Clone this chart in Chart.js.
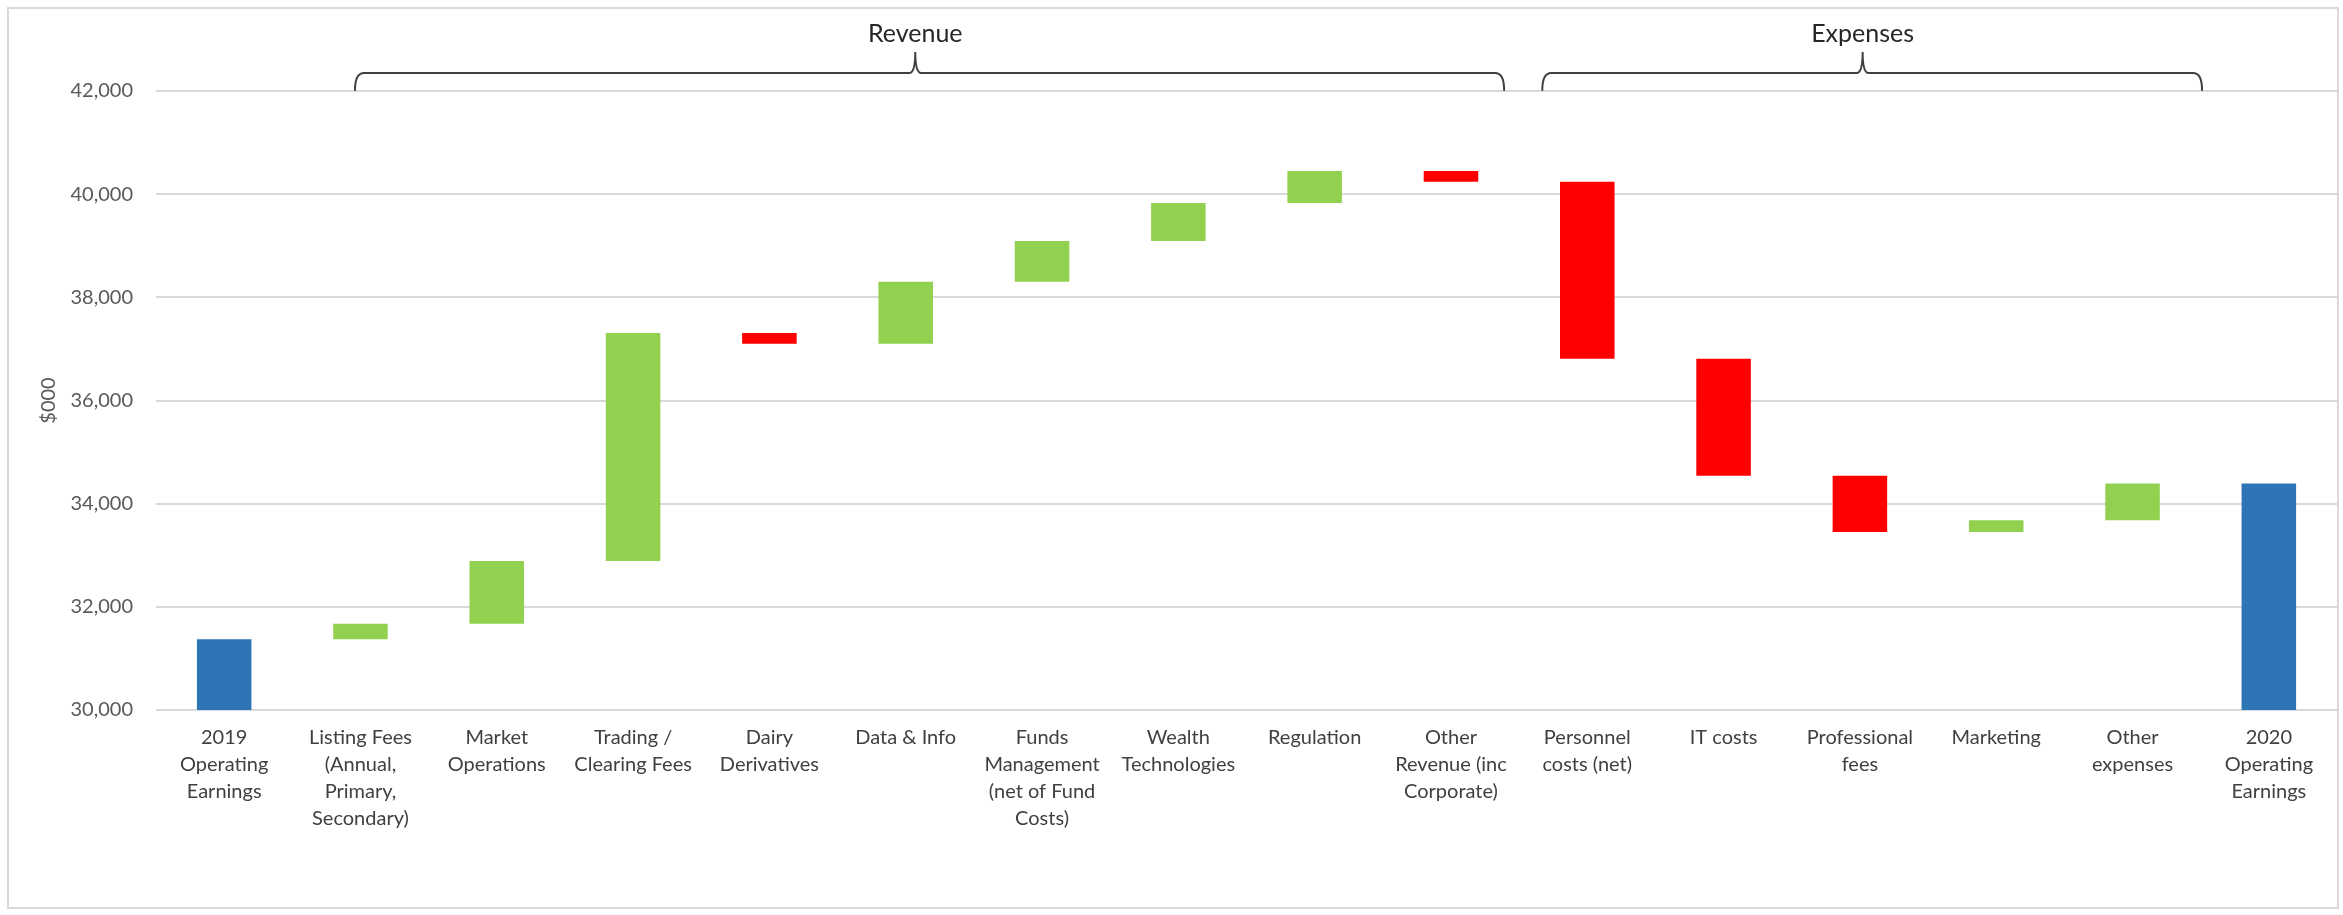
<!DOCTYPE html>
<html>
<head>
<meta charset="utf-8">
<title>Operating earnings bridge 2019 to 2020</title>
<script src="https://cdn.jsdelivr.net/npm/chart.js@4/dist/chart.umd.min.js"></script>
<style>
  html, body { margin: 0; padding: 0; background: #fff; }
  canvas { display: block; }
</style>
</head>
<body>
<canvas id="bridgeChart" width="2343" height="915"></canvas>
<script>
// categories (wrapped the way the axis shows them)
const categories = [
  ['2019', 'Operating', 'Earnings'],
  ['Listing Fees', '(Annual,', 'Primary,', 'Secondary)'],
  ['Market', 'Operations'],
  ['Trading /', 'Clearing Fees'],
  ['Dairy', 'Derivatives'],
  'Data & Info',
  ['Funds', 'Management', '(net of Fund', 'Costs)'],
  ['Wealth', 'Technologies'],
  'Regulation',
  ['Other', 'Revenue (inc', 'Corporate)'],
  ['Personnel', 'costs (net)'],
  'IT costs',
  ['Professional', 'fees'],
  'Marketing',
  ['Other', 'expenses'],
  ['2020', 'Operating', 'Earnings']
];

// bar start / end levels ($000)
const barFrom = [30000, 31370, 31670, 32890, 37310, 37100, 38300, 39090, 39830, 40450, 40240, 36810, 34540, 33450, 33680, 30000];
const barTo   = [31370, 31670, 32890, 37310, 37100, 38300, 39090, 39830, 40450, 40240, 36810, 34540, 33450, 33680, 34390, 34390];
const barKind = ['total', 'up', 'up', 'up', 'down', 'up', 'up', 'up', 'up', 'down', 'down', 'down', 'down', 'up', 'up', 'total'];

const yTicks = [30000, 32000, 34000, 36000, 38000, 40000, 42000];

// group brackets above the bars, in category units
const groupNames = ['Revenue', 'Expenses'];
const groupFrom = [0.96, 9.67];
const groupTo = [9.39, 14.51];
const groupTip = [5.07, 12.02];

const kindColors = { total: '#2E75B6', up: '#92D050', down: '#FF0000' };
const FONT = 'Lato, "Open Sans", sans-serif';

const bracketPlugin = {
  id: 'brackets',
  beforeDraw(chart) {
    const c = chart.ctx;
    c.save();
    c.fillStyle = '#ffffff';
    c.fillRect(0, 0, chart.width, chart.height);
    c.restore();
  },
  afterDraw(chart) {
    const c = chart.ctx;
    const x = chart.scales.x;
    const lineY = 73, endY = 90, tipY = 52;
    c.save();
    c.strokeStyle = '#404040';
    c.lineWidth = 2;
    c.lineCap = 'round';
    for (let i = 0; i < groupNames.length; i++) {
      const x0 = x.getPixelForValue(groupFrom[i]);
      const x1 = x.getPixelForValue(groupTo[i]);
      const xt = x.getPixelForValue(groupTip[i]);
      c.beginPath();
      c.moveTo(x0, endY);
      c.quadraticCurveTo(x0, lineY, x0 + 9, lineY);
      c.lineTo(xt - 6, lineY);
      c.quadraticCurveTo(xt, lineY, xt, tipY);
      c.quadraticCurveTo(xt, lineY, xt + 6, lineY);
      c.lineTo(x1 - 9, lineY);
      c.quadraticCurveTo(x1, lineY, x1, endY);
      c.stroke();

      c.fillStyle = '#262626';
      c.font = '25px ' + FONT;
      c.textAlign = 'center';
      c.textBaseline = 'alphabetic';
      c.fillText(groupNames[i], xt, 42);
    }
    // outer frame
    c.strokeStyle = '#d9d9d9';
    c.lineWidth = 2;
    c.strokeRect(8, 8, 2330, 900);
    c.restore();
  }
};

new Chart(document.getElementById('bridgeChart'), {
  type: 'bar',
  data: {
    labels: categories,
    datasets: [{
      label: '$000',
      data: barFrom.map((v, i) => [v, barTo[i]]),
      backgroundColor: barKind.map(k => kindColors[k]),
      borderWidth: 0,
      categoryPercentage: 1,
      barPercentage: 0.4
    }]
  },
  options: {
    responsive: false,
    animation: false,
    devicePixelRatio: 1,
    layout: { padding: { top: 91, right: 6, bottom: 0, left: 0 } },
    plugins: {
      legend: { display: false },
      tooltip: { enabled: false }
    },
    scales: {
      x: {
        grid: { display: false, drawTicks: false },
        border: { display: false },
        ticks: {
          autoSkip: false,
          maxRotation: 0,
          minRotation: 0,
          padding: 14,
          color: '#404040',
          font: { family: FONT, size: 20, lineHeight: 1.35 }
        },
        afterFit(scale) { scale.height = 205; }
      },
      y: {
        min: 30000,
        max: 42000,
        afterBuildTicks(scale) { scale.ticks = yTicks.map(v => ({ value: v })); },
        grid: { color: '#d9d9d9', lineWidth: 2, drawTicks: false },
        border: { display: false },
        ticks: {
          padding: 23,
          color: '#595959',
          font: { family: FONT, size: 20 },
          callback: v => v.toLocaleString('en-US')
        },
        title: {
          display: true,
          text: '$000',
          color: '#595959',
          font: { family: FONT, size: 20 },
          padding: { top: 37, bottom: 0 }
        },
        afterFit(scale) { scale.width = 156; }
      }
    }
  },
  plugins: [bracketPlugin]
});
</script>
</body>
</html>
